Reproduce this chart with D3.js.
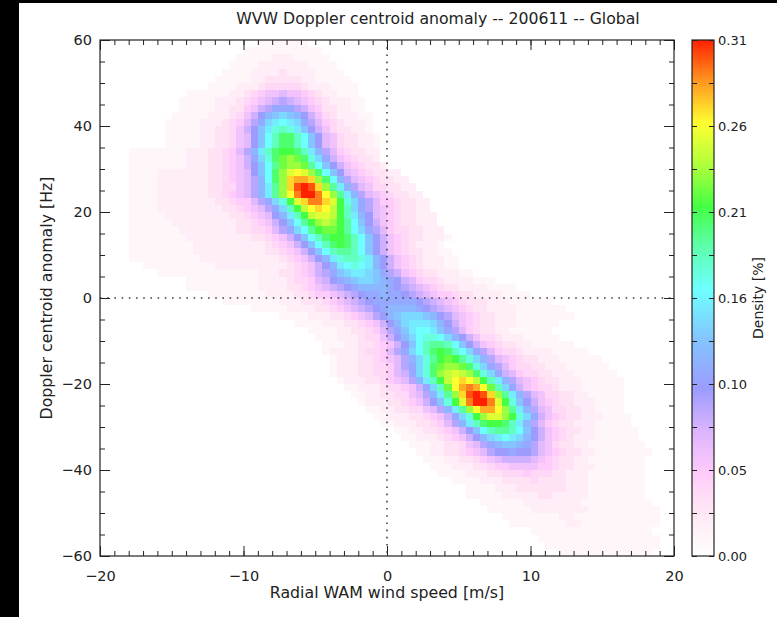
<!DOCTYPE html>
<html><head><meta charset="utf-8">
<script src="https://cdn.jsdelivr.net/npm/d3@7"></script>
<style>body{margin:0;background:#fff}svg{display:block}</style>
</head><body><svg id="c" width="777" height="617"></svg>
<script>
const title = "WVW Doppler centroid anomaly -- 200611 -- Global";
const xLabel = "Radial WAM wind speed [m/s]";
const yLabel = "Doppler centroid anomaly [Hz]";
const cLabel = "Density [%]";
const xDomain = [-20, 20];
const yDomain = [-60, 60];
const xTicks = [-20, -10, 0, 10, 20];
const yTicks = [-60, -40, -20, 0, 20, 40, 60];
const xMinorStep = 1;
const yMinorStep = 5;
const cbMax = 0.31;
const cbTickPos = [0, 0.05167, 0.10333, 0.155, 0.20667, 0.25833, 0.31];
const cbTickText = ["0.00", "0.05", "0.10", "0.16", "0.21", "0.26", "0.31"];
const xBin = 0.5;      // m/s per cell
const yBin = 5 / 3;    // Hz per cell
const levelUnit = 0.01; // density per level
const levelChars = "0123456789abcdefghijklmnopqrstuv";
const cStops  = [0, 0.01, 0.02, 0.03, 0.04, 0.05, 0.075, 0.10, 0.13, 0.16, 0.185, 0.21, 0.235, 0.26, 0.285, 0.31];
const cColors = ["#ffffff","#fff6fa","#ffedf7","#ffe3f5","#ffd8f8","#ffcbfa","#dcb4ff","#9c9cff","#84c4ff","#6effff","#5effb0","#44ff44","#b0ff3c","#ffff30","#ff9820","#ff2000"];

// density grid, row 0 = top (y=60), one char per 0.5 m/s cell starting at rowStart
const rowStart = [22,20,19,18,17,16,15,12,11,11, 10,9,9,9,9,4,4,4,4,4, 4,4,4,4,4,4,4,4,4,4,
  4,6,8,12,12,15,17,21,25,27, 29,30,31,31,32,32,32,33,34,35, 36,37,38,39,41,42,43,44,45,46,
  47,49,51,51,53,54,56,57,60,61, 62,64];
const rowLevels = [
"1111111",
"11111111111",
"1111122211111",
"111122222221111",
"11112222322221111",
"1111122333332211111",
"111122234444432221111",
"1111112234566"+"7"+"6654322111",
"11111222345678"+"9"+"87654322211",
"1111122335689b"+"b"+"b9865332211",
"111112223468acd"+"e"+"dca864322211",
"1111122234579bef"+"g"+"feb975432221",
"111112233468adfh"+"i"+"hfda86433221",
"111112233467adgik"+"kigda76433221",
"111112233467adgik"+"kigda76433221",
"11111111222334579cfikl"+"lkifc97543322",
"111"+"11111222334568behkm"+"n"+"mkheb8654332",
"1111"+"1111222334568adgjmn"+"nmjgda8654332",
"1111"+"2222222334567adgknp"+"q"+"pnkgda76543322",
"1111"+"22222223345679cgknrs"+"srnkgc976543322",
"1111"+"22222223344679cfjnru"+"v"+"urnjfc976443322",
"1111"+"22222223345679cfjnqtv"+"vtqnjfc976543322",
"1111"+"222222223345579behlprt"+"trplheb975543322",
"1111"+"2222222223345679beiloq"+"r"+"qolieb976543322",
"11111"+"222222222334567acfilop"+"polifca765433222",
"111111"+"222222222334568adgjln"+"o"+"nljgda865433222",
"1111111"+"222222223344579begjlm"+"mljgeb9754433222",
"11111111"+"222222222334568adgikl"+"lkigda8654332221",
"111111111"+"222222222234568adgik"+"l"+"kigda865432221",
"111111111"+"2222222222334568adgij"+"jigda8654332211",
"1111111111"+"22222222222"+"34568acfhi"+"ihfca8654322211",
"1111111111"+"2222222222"+"34568acfg"+"h"+"gfca8654322211",
"11111111"+"1111112223345689bdef"+"fedb986543322211",
"1111"+"1111112222344578abcde"+"edcba8754432222111",
"111"+"1111111222233456789abcc"+"ccba9876543322221111",
"111111112222334556789abb"+"c"+"bba98765543322221111",
"11111111222333456789abbb"+"bbba987654333222111111",
"11111222233456789abcc"+"ccba9876543322221111111",
"11112223345679acde"+"e"+"edca976543322211111111",
"1111222334568acef"+"f"+"feca865433222111111",
"111122334579bdfg"+"gfdb97543322111111",
"11122234468acegh"+"hgeca8644322211111",
"11122334568adgij"+"jigda86543322111111",
"12222344579begik"+"l"+"kigeb975443222211111",
"12223345679cehjl"+"m"+"ljhec9765433222111111",
"12223344579behkmn"+"nmkheb9754433222111111",
"12223344578behkno"+"p"+"onkheb8754433222111111",
"12223345679cfiloq"+"r"+"qolifc9765433222111111",
"11222344568beimqs"+"t"+"sqmieb865443222111111",
"11223344679cfjnru"+"v"+"urnjfc97644332211111",
"1222334568adhlptv"+"vtplhda8654332221111",
"11223344679cfjnqs"+"sqnjfc9764433221111",
"11222334568behlnp"+"pnlheb8654332221111",
"11222334579cfikl"+"lkifc97543322211111",
"1122334568adgij"+"jigda86543322111111",
"1122234568acef"+"g"+"feca86543222111111",
"11122334679bcd"+"dcb9764332211111111",
"11223345679aa"+"b"+"aa97654332211111111",
"1112233456788"+"887654332211111111",
"1112223345566"+"66554332221111111",
"111122233444"+"5"+"4443322211111111",
"11112223333"+"4"+"333322211111111",
"1111222333"+"3"+"33322211111111",
"11111222223"+"32222211111111",
"1111112222"+"22221111111111",
"1111112222"+"22221111111111",
"111111112"+"2111111111111",
"111111112"+"211111111111",
"11111111111111111",
"11111111111111111",
"1111111111111111",
"1111111111111"
];

const W = 777, H = 617;
const M = {left: 100, right: 674, top: 40, bottom: 556};
const CB = {x0: 692, x1: 714};
const FONT = "'DejaVu Sans', sans-serif";
const INK = "#222";

const svg = d3.select("#c");
const x = d3.scaleLinear().domain(xDomain).range([M.left, M.right]);
const y = d3.scaleLinear().domain(yDomain).range([M.bottom, M.top]);
const color = d3.scaleLinear().domain(cStops).range(cColors).interpolate(d3.interpolateRgb).clamp(true);

svg.append("rect").attr("width", W).attr("height", H).attr("fill", "#fff");
svg.append("rect").attr("x", 0).attr("y", 0).attr("width", 19).attr("height", H).attr("fill", "#000");
svg.append("rect").attr("x", 0).attr("y", 0).attr("width", W).attr("height", 3).attr("fill", "#000");

// cells
const cells = [];
rowLevels.forEach((s, r) => {
  for (let i = 0; i < s.length; i++) {
    const lv = levelChars.indexOf(s[i]);
    if (lv > 0) cells.push({c: rowStart[r] + i, r: r, v: lv * levelUnit});
  }
});
const cx0 = d => Math.round(x(xDomain[0] + d.c * xBin));
const cx1 = d => Math.round(x(xDomain[0] + (d.c + 1) * xBin));
const cy0 = d => Math.round(y(yDomain[1] - d.r * yBin));
const cy1 = d => Math.round(y(yDomain[1] - (d.r + 1) * yBin));
svg.append("g").selectAll("rect").data(cells).join("rect")
  .attr("x", cx0).attr("width", d => cx1(d) - cx0(d))
  .attr("y", cy0).attr("height", d => cy1(d) - cy0(d))
  .attr("fill", d => color(d.v)).attr("shape-rendering", "crispEdges");

// dotted zero lines
svg.append("line").attr("x1", x(0)).attr("x2", x(0)).attr("y1", y(yDomain[1])).attr("y2", y(yDomain[0]))
  .attr("stroke", "#444").attr("stroke-width", 1.6).attr("stroke-dasharray", "1.6,5.6");
svg.append("line").attr("x1", x(xDomain[0])).attr("x2", x(xDomain[1])).attr("y1", y(0)).attr("y2", y(0))
  .attr("stroke", "#444").attr("stroke-width", 1.6).attr("stroke-dasharray", "1.6,5.6");

function styleAxis(g) {
  g.select(".domain").remove();
  g.attr("font-family", FONT).attr("font-size", 14.5);
  g.selectAll("line").attr("stroke", INK);
  g.selectAll("text").attr("fill", INK);
}
const fmt = d => (d < 0 ? "\u2212" + Math.abs(d) : String(d));
const xMinor = d3.range(xDomain[0], xDomain[1] + 0.001, xMinorStep);
const yMinor = d3.range(yDomain[0], yDomain[1] + 0.001, yMinorStep);

svg.append("g").attr("transform", `translate(0,${M.bottom})`)
  .call(d3.axisBottom(x).tickValues(xMinor).tickSize(-5).tickSizeOuter(0).tickFormat("")).call(styleAxis);
svg.append("g").attr("transform", `translate(0,${M.bottom})`)
  .call(d3.axisBottom(x).tickValues(xTicks).tickSize(-10).tickSizeOuter(0).tickPadding(15).tickFormat(fmt)).call(styleAxis);
svg.append("g").attr("transform", `translate(0,${M.top})`)
  .call(d3.axisTop(x).tickValues(xMinor).tickSize(-5).tickSizeOuter(0).tickFormat("")).call(styleAxis);
svg.append("g").attr("transform", `translate(0,${M.top})`)
  .call(d3.axisTop(x).tickValues(xTicks).tickSize(-10).tickSizeOuter(0).tickFormat("")).call(styleAxis);
svg.append("g").attr("transform", `translate(${M.left},0)`)
  .call(d3.axisLeft(y).tickValues(yMinor).tickSize(-5).tickSizeOuter(0).tickFormat("")).call(styleAxis);
svg.append("g").attr("transform", `translate(${M.left},0)`)
  .call(d3.axisLeft(y).tickValues(yTicks).tickSize(-10).tickSizeOuter(0).tickPadding(8).tickFormat(fmt)).call(styleAxis);
svg.append("g").attr("transform", `translate(${M.right},0)`)
  .call(d3.axisRight(y).tickValues(yMinor).tickSize(-5).tickSizeOuter(0).tickFormat("")).call(styleAxis);
svg.append("g").attr("transform", `translate(${M.right},0)`)
  .call(d3.axisRight(y).tickValues(yTicks).tickSize(-10).tickSizeOuter(0).tickFormat("")).call(styleAxis);

svg.append("rect").attr("x", M.left).attr("y", M.top).attr("width", M.right - M.left).attr("height", M.bottom - M.top)
  .attr("fill", "none").attr("stroke", INK).attr("stroke-width", 1.2);

// colorbar
const cb = d3.scaleLinear().domain([0, cbMax]).range([M.bottom, M.top]);
const cbRows = d3.range(M.top, M.bottom);
svg.append("g").selectAll("rect").data(cbRows).join("rect")
  .attr("x", CB.x0).attr("width", CB.x1 - CB.x0).attr("y", d => d).attr("height", 1)
  .attr("fill", d => color(cb.invert(d + 0.5))).attr("shape-rendering", "crispEdges");
svg.append("rect").attr("x", CB.x0).attr("y", M.top).attr("width", CB.x1 - CB.x0).attr("height", M.bottom - M.top)
  .attr("fill", "none").attr("stroke", INK).attr("stroke-width", 1.2);
const cbMinor = d3.range(13).map(k => k * cbMax / 12);
svg.append("g").attr("transform", `translate(${CB.x0},0)`)
  .call(d3.axisLeft(cb).tickValues(cbMinor).tickSize(-5).tickSizeOuter(0).tickFormat("")).call(styleAxis);
svg.append("g").attr("transform", `translate(${CB.x1},0)`)
  .call(d3.axisRight(cb).tickValues(cbMinor).tickSize(-5).tickSizeOuter(0).tickFormat("")).call(styleAxis);
svg.append("g").selectAll("text").data(cbTickPos).join("text")
  .attr("x", CB.x1 + 4).attr("y", d => cb(d)).attr("dy", "0.35em")
  .attr("font-family", FONT).attr("font-size", 13).attr("fill", INK)
  .text((d, i) => cbTickText[i]);

// titles
svg.append("text").attr("x", 438).attr("y", 24).attr("text-anchor", "middle")
  .attr("font-family", FONT).attr("font-size", 15.7).attr("fill", INK).text(title);
svg.append("text").attr("x", (M.left + M.right) / 2).attr("y", 598).attr("text-anchor", "middle")
  .attr("font-family", FONT).attr("font-size", 15.8).attr("fill", INK).text(xLabel);
svg.append("text").attr("transform", `translate(46,${(M.top + M.bottom) / 2}) rotate(-90)`)
  .attr("text-anchor", "middle").attr("dy", "0.35em")
  .attr("font-family", FONT).attr("font-size", 15.8).attr("fill", INK).text(yLabel);
svg.append("text").attr("transform", `translate(758,${(M.top + M.bottom) / 2}) rotate(-90)`)
  .attr("text-anchor", "middle").attr("dy", "0.35em")
  .attr("font-family", FONT).attr("font-size", 14).attr("fill", INK).text(cLabel);
</script></body></html>
